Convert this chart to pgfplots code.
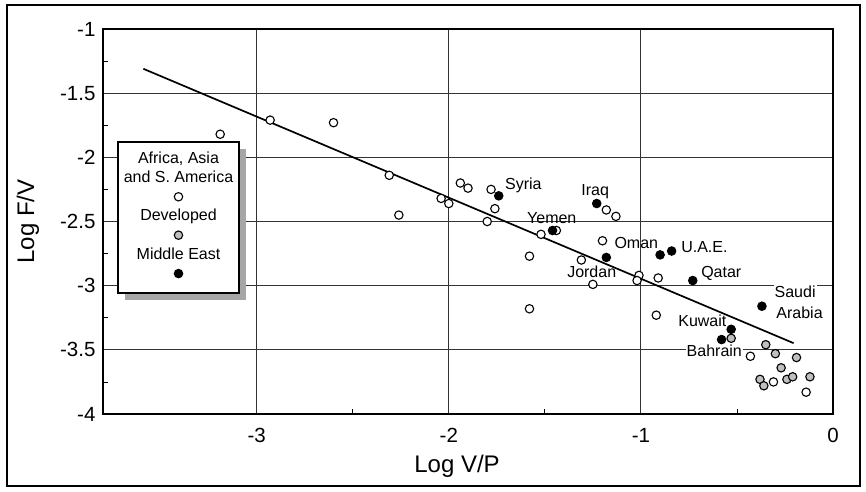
\documentclass[border=0pt]{standalone}
\usepackage{fontspec}
\setmainfont{Liberation Sans}
\usepackage{pgfplots}
\pgfplotsset{compat=1.18}
\begin{document}
\begin{tikzpicture}
\begin{axis}[
  scale only axis, width=730pt, height=385pt,
  xmin=-3.8, xmax=0, ymin=-4, ymax=-1,
  xtick={-3,-2,-1,0}, xticklabels={-3,-2,-1,0},
  ytick={-4,-3.5,-3,-2.5,-2,-1.5,-1}, yticklabels={-4,-3.5,-3,-2.5,-2,-1.5,-1},
  minor x tick num=1, minor y tick num=1,
  tick pos=left, tick align=inside,
  major tick length=0pt, minor tick length=5pt,
  every tick/.style={black, line width=0.8pt},
  grid=major, major grid style={black!80, line width=0.9pt},
  axis line style={line width=1.5pt},
  ticklabel style={font=\fontsize{20.5}{24}\selectfont},
  xticklabel style={yshift=-11pt},
  yticklabel style={xshift=-4pt},
  xlabel={Log V/P}, ylabel={Log F/V},
  label style={font=\fontsize{24}{28}\selectfont},
  xlabel style={at={(axis description cs:0.485,-0.135)}, anchor=center},
  ylabel style={at={(axis description cs:-0.1027,0.5)}, anchor=center},
  clip=false,
]
% regression line
\addplot[black, line width=1.7pt] coordinates {(-3.59,-1.310) (-0.205,-3.448)};
% Africa, Asia and S. America
\addplot[only marks, mark=*, mark size=4.2pt, mark options={draw=black, fill=white, line width=1.1pt}] coordinates {
(-3.19,-1.82) (-2.93,-1.71) (-2.60,-1.73) (-2.31,-2.14) (-2.26,-2.45)
(-2.04,-2.32) (-2.00,-2.36) (-1.94,-2.20) (-1.90,-2.24) (-1.78,-2.25)
(-1.76,-2.40) (-1.80,-2.50) (-1.52,-2.60) (-1.44,-2.57) (-1.58,-2.77)
(-1.58,-3.18) (-1.31,-2.80) (-1.25,-2.99) (-1.20,-2.65) (-1.18,-2.41)
(-1.13,-2.46) (-1.01,-2.92) (-1.02,-2.96) (-0.91,-2.94) (-0.92,-3.23)
(-0.43,-3.55) (-0.31,-3.75) (-0.14,-3.83)
};
% Middle East
\addplot[only marks, mark=*, mark size=4.2pt, mark options={draw=black, fill=black, line width=1.1pt}] coordinates {
(-1.74,-2.30) (-1.23,-2.36) (-1.46,-2.57) (-1.18,-2.78) (-0.90,-2.76)
(-0.84,-2.73) (-0.73,-2.96) (-0.37,-3.16) (-0.53,-3.34) (-0.58,-3.42)
};
% Developed
\addplot[only marks, mark=*, mark size=4.2pt, mark options={draw=black, fill=black!25, line width=1.1pt}] coordinates {
(-0.53,-3.41) (-0.35,-3.46) (-0.30,-3.53) (-0.19,-3.56) (-0.27,-3.64)
(-0.38,-3.73) (-0.36,-3.78) (-0.24,-3.73) (-0.21,-3.71) (-0.12,-3.71)
};
\begin{scope}[font=\fontsize{16}{18}\selectfont]
\node[anchor=west] at (axis cs:-1.725,-2.215) {Syria};
\node at (axis cs:-1.238,-2.267) {Iraq};
\node at (axis cs:-1.464,-2.472) {Yemen};
\node at (axis cs:-1.256,-2.890) {Jordan};
\node at (axis cs:-1.024,-2.667) {Oman};
\node[anchor=west] at (axis cs:-0.808,-2.698) {U.A.E.};
\node[anchor=west] at (axis cs:-0.704,-2.908) {Qatar};
\node[anchor=west, fill=white, inner sep=1pt] at (axis cs:-0.310,-3.048) {Saudi};
\node[anchor=west] at (axis cs:-0.313,-3.212) {Arabia};
\node at (axis cs:-0.680,-3.274) {Kuwait};
\node[fill=white, inner sep=1pt] at (axis cs:-0.618,-3.505) {Bahrain};
\end{scope}
\end{axis}
% legend
\fill[black!35] (22pt,114pt) rectangle (143pt,265pt);
\draw[fill=white, line width=1.3pt] (15pt,121pt) rectangle (136pt,272pt);
\node[align=center, font=\fontsize{16}{19.2}\selectfont, anchor=north] at (75.5pt,266pt)
 {Africa, Asia\\and S.\ America\\
  \tikz\draw[line width=1.1pt, fill=white] (0,0) circle (4.2pt);\\
  Developed\\
  \tikz\draw[line width=1.1pt, fill=black!25] (0,0) circle (4.2pt);\\
  Middle East\\
  \tikz\draw[line width=1.1pt, fill=black] (0,0) circle (4.2pt);};
% outer frame
\draw[line width=2pt] (-96pt,-72pt) rectangle (757pt,409pt);
\path (-103pt,-77pt) rectangle (763pt,414pt);
\end{tikzpicture}
\end{document}
